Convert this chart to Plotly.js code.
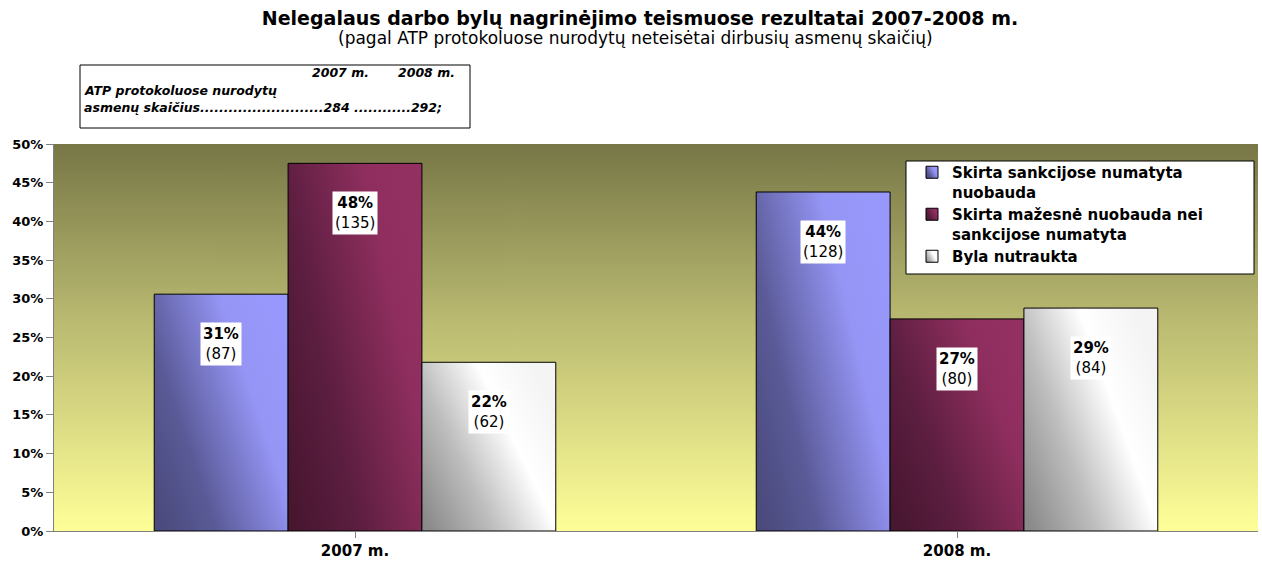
<!DOCTYPE html>
<html>
<head>
<meta charset="utf-8">
<script src="https://cdn.plot.ly/plotly-3.0.1.min.js"></script>
<style>html,body{margin:0;padding:0;background:#fff;}#chart{width:1262px;height:567px;}</style>
</head>
<body>
<div id="chart"></div>
<script>
// ---- data ----
const categories = ["2007 m.", "2008 m."];
const seriesNames = [
  "Skirta sankcijose numatyta<br>nuobauda",
  "Skirta mažesnė nuobauda nei<br>sankcijose numatyta",
  "Byla nutraukta"
];
const pctSankcijose = [30.6, 43.8];
const pctMazesne = [47.5, 27.4];
const pctNutraukta = [21.8, 28.8];
const cntSankcijose = [87, 128];
const cntMazesne = [135, 80];
const cntNutraukta = [62, 84];
const totalLabel = ["284", "292"];
const yTicks = [0, 5, 10, 15, 20, 25, 30, 35, 40, 45, 50];

const FONT = "DejaVu Sans, Liberation Sans, Arial, sans-serif";
const seriesPct = [pctSankcijose, pctMazesne, pctNutraukta];
const seriesCnt = [cntSankcijose, cntMazesne, cntNutraukta];
const baseColors = ["#7474c8", "#6e2248", "#c8c8c8"];
const bargap = 0.333;

const traces = seriesPct.map((vals, j) => ({
  type: "bar",
  name: "<b>" + seriesNames[j] + "</b>",
  x: categories.map((_, i) => i),
  y: vals,
  marker: {color: baseColors[j], line: {color: "#000", width: 1}},
  hoverinfo: "skip"
}));

// background gradient image
function gradURL(){
  const c = document.createElement("canvas");
  c.width = 4; c.height = 400;
  const g = c.getContext("2d");
  const lg = g.createLinearGradient(0,0,0,400);
  lg.addColorStop(0, "#777747");
  lg.addColorStop(0.45, "#b9b971");
  lg.addColorStop(1, "#ffff99");
  g.fillStyle = lg; g.fillRect(0,0,4,400);
  return c.toDataURL("image/png");
}

const annotations = [];
const w = (1 - bargap) / 3;
seriesPct.forEach((vals, j) => {
  vals.forEach((v, i) => {
    annotations.push({
      x: i + (j - 1) * w, y: v, xref: "x", yref: "y",
      yanchor: "top", yshift: -28, showarrow: false,
      text: "<b>" + Math.round(v) + "%</b><br>(" + seriesCnt[j][i] + ")",
      font: {family: FONT, size: 15, color: "#000"},
      bgcolor: "#fff", borderpad: 2
    });
  });
});
function py(p){ return (531 - p) / 387; }
function px(p){ return (p - 54) / 1204; }
const boxFont = {family: FONT, size: 12.5, color: "#000"};
annotations.push(
  {xref:"paper", yref:"paper", x:px(635), y:py(38), showarrow:false, yanchor:"middle",
   text:"(pagal ATP protokoluose nurodytų neteisėtai dirbusių asmenų skaičių)",
   font:{family:FONT, size:17, color:"#000"}},
  {xref:"paper", yref:"paper", x:px(371), y:py(73), xanchor:"right", yanchor:"middle", showarrow:false,
   text:"<b><i>" + categories[0] + "</i></b>", font:boxFont},
  {xref:"paper", yref:"paper", x:px(457), y:py(73), xanchor:"right", yanchor:"middle", showarrow:false,
   text:"<b><i>" + categories[1] + "</i></b>", font:boxFont},
  {xref:"paper", yref:"paper", x:px(82), y:py(90), xanchor:"left", yanchor:"middle", showarrow:false,
   text:"<b><i>ATP protokoluose nurodytų</i></b>", font:boxFont},
  {xref:"paper", yref:"paper", x:px(82), y:py(107), xanchor:"left", yanchor:"middle", showarrow:false,
   text:"<b><i>asmenų skaičius.........................." + totalLabel[0] + " ............" + totalLabel[1] + ";</i></b>",
   font:boxFont}
);

const layout = {
  width: 1262, height: 567,
  margin: {l: 54, r: 4, t: 144, b: 36},
  paper_bgcolor: "#fff",
  plot_bgcolor: "#ffff99",
  font: {family: FONT, color: "#000"},
  title: {text: "<b>Nelegalaus darbo bylų nagrinėjimo teismuose rezultatai 2007-2008 m.</b>",
          font: {family: FONT, size: 19, color: "#000"},
          x: 640/1262, xanchor: "center", y: 1 - 18/567, yanchor: "middle"},
  barmode: "group", bargap: bargap, bargroupgap: 0,
  showlegend: true,
  legend: {x: px(912), y: py(156), xanchor: "left", yanchor: "top",
           bgcolor: "rgba(0,0,0,0)", borderwidth: 0, valign: "top",
           font: {family: FONT, size: 15, color: "#000"},
           tracegroupgap: 0, itemwidth: 30, traceorder: "normal"},
  xaxis: {
    tickmode: "array", tickvals: categories.map((_, i) => i), ticktext: categories.map(c => "<b>" + c + "</b>"),
    range: [-0.5, 1.5], tickson: "boundaries", ticks: "outside", ticklen: 6, tickcolor: "#808080",
    showline: true, linecolor: "#808080", linewidth: 1, showgrid: false, zeroline: false,
    tickfont: {family: FONT, size: 15, color: "#000"}, fixedrange: true
  },
  yaxis: {
    range: [0, 50], tickmode: "array", tickvals: yTicks, ticktext: yTicks.map(t => "<b>" + t + "%</b>"),
    ticks: "outside", ticklen: 7, tickcolor: "#808080",
    showline: true, linecolor: "#808080", linewidth: 1, showgrid: false, zeroline: false,
    tickfont: {family: FONT, size: 13, color: "#000"}, fixedrange: true
  },
  images: [{source: gradURL(), xref: "paper", yref: "paper", x: 0, y: 1, sizex: 1, sizey: 1,
            xanchor: "left", yanchor: "top", sizing: "stretch", layer: "below"}],
  shapes: [
    {type: "rect", xref: "paper", yref: "paper", x0: px(906), x1: px(1254), y0: py(274), y1: py(161),
     fillcolor: "#fff", line: {color: "#000", width: 1}, layer: "above"},
    {type: "rect", xref: "paper", yref: "paper", x0: px(80), x1: px(470), y0: py(128), y1: py(65),
     fillcolor: "#fff", line: {color: "#000", width: 1}, layer: "above"}
  ],
  annotations: annotations
};

Plotly.newPlot("chart", traces, layout, {displayModeBar: false, staticPlot: true}).then(gd => {
  const svg = gd.querySelector("svg.main-svg");
  const ns = "http://www.w3.org/2000/svg";
  let defs = svg.querySelector("defs");
  if (!defs) { defs = document.createElementNS(ns, "defs"); svg.insertBefore(defs, svg.firstChild); }
  const grads = [
    [["0", "#4a4a7c"], ["0.3", "#5a5a98"], ["0.75", "#9595f5"], ["1", "#9898fc"]],
    [["0", "#47162f"], ["0.35", "#5c1e40"], ["0.8", "#8e2e5e"], ["1", "#933062"]],
    [["0", "#8a8a8a"], ["0.35", "#bdbdbd"], ["0.7", "#ffffff"], ["1", "#f4f4f4"]]
  ];
  grads.forEach((stops, j) => {
    const lg = document.createElementNS(ns, "linearGradient");
    lg.setAttribute("id", "bargrad" + j);
    lg.setAttribute("x1", "0"); lg.setAttribute("y1", "0.9");
    lg.setAttribute("x2", "1"); lg.setAttribute("y2", "0.3");
    stops.forEach(s => {
      const st = document.createElementNS(ns, "stop");
      st.setAttribute("offset", s[0]); st.setAttribute("stop-color", s[1]);
      lg.appendChild(st);
    });
    defs.appendChild(lg);
  });
  gd.querySelectorAll(".barlayer .trace").forEach((tr, j) => {
    tr.querySelectorAll("path").forEach(p => { p.style.fill = "url(#bargrad" + j + ")"; p.style.fillOpacity = 1; });
  });
  gd.querySelectorAll(".legend .traces").forEach((tr, j) => {
    tr.querySelectorAll(".legendpoints path").forEach(p => { p.style.fill = "url(#bargrad" + j + ")"; });
  });
});
</script>
</body>
</html>
